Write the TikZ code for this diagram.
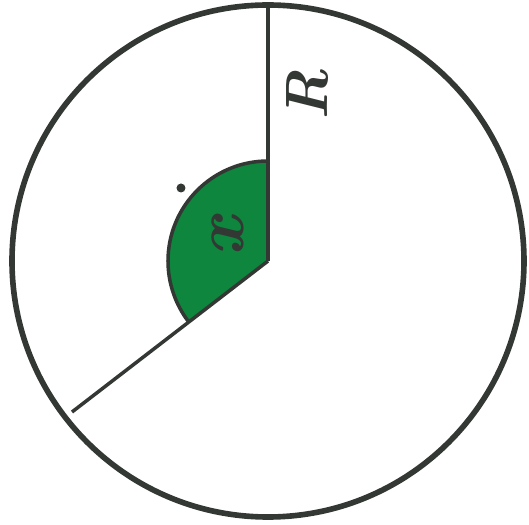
\documentclass[tikz,border=0pt]{standalone}
\usepackage{xcolor}
\usepackage{tikz}

\definecolor{inkgray}{RGB}{52,56,52}
\definecolor{sectorgreen}{RGB}{14,134,62}

\begin{document}
\begin{tikzpicture}[
      x=0.02cm, y=0.02cm,
      rim/.style={draw=inkgray, line width=3.2pt},
      radius line/.style={draw=inkgray, line width=2pt},
      label/.style={inkgray, font=\bfseries\itshape\fontsize{34}{34}\selectfont, rotate=90}
    ]
      \useasboundingbox (0,0) rectangle (529,525);

      \coordinate (centre) at (268,264);
      \coordinate (top)    at (268,520);
      \coordinate (low)    at (72,113);
      \coordinate (arcstart) at (268,364);

      % angle sector
      \fill[sectorgreen] (centre) -- (arcstart) arc[start angle=90, end angle=217.6, radius=100] -- cycle;
      \draw[radius line] (arcstart) arc[start angle=90, end angle=217.6, radius=100];

      \draw[rim] (centre) circle[radius=256];
      \draw[radius line] (centre) -- (top);
      \draw[radius line] (centre) -- (low);

      \node[label] (rlabel) at (308,430) {R};
      \node[label, font=\bfseries\itshape\fontsize{40}{40}\selectfont] (xlabel) at (228,288) {x};
      \fill[inkgray] (181,337) circle[radius=4.5];
    \end{tikzpicture}
\end{document}
